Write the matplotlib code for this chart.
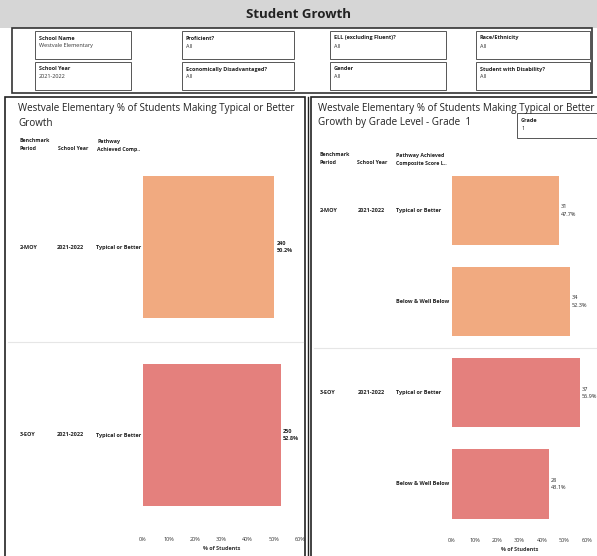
import matplotlib
matplotlib.use("Agg")
import matplotlib.pyplot as plt
from matplotlib.patches import Rectangle
from matplotlib.lines import Line2D
from matplotlib.transforms import blended_transform_factory
from matplotlib.ticker import PercentFormatter

plt.rcParams['font.family'] = ['Open Sans', 'DejaVu Sans']

# ---- data ----
left_periods = ["2-MOY", "3-EOY"]
left_years = ["2021-2022", "2021-2022"]
left_pathway = ["Typical or Better", "Typical or Better"]
left_counts = [240, 250]
left_pct = [0.502, 0.528]

right_periods = ["2-MOY", "", "3-EOY", ""]
right_years = ["2021-2022", "", "2021-2022", ""]
right_pathway = ["Typical or Better", "Below & Well Below", "Typical or Better", "Below & Well Below"]
right_counts = [31, 34, 37, 28]
right_pct = [0.477, 0.523, 0.569, 0.431]
right_group = ["MOY", "MOY", "EOY", "EOY"]

xticks = [0, 0.1, 0.2, 0.3, 0.4, 0.5, 0.6]

filters = [("School Name", "Westvale Elementary"), ("School Year", "2021-2022"),
           ("Proficient?", "All"), ("Economically Disadvantaged?", "All"),
           ("ELL (excluding Fluent)?", "All"), ("Gender", "All"),
           ("Race/Ethnicity", "All"), ("Student with Disability?", "All")]

COL = {"MOY": "#F1AA80", "EOY": "#E4807D"}

W, H = 597, 556
fig = plt.figure(figsize=(W / 100, H / 100), dpi=100)
fig.patch.set_facecolor("white")

def fx(x): return x / W
def fy(y): return 1 - y / H

def rect(x0, y0, x1, y1, **kw):
    r = Rectangle((fx(x0), fy(y1)), fx(x1) - fx(x0), fy(y0) - fy(y1),
                  transform=fig.transFigure, **kw)
    fig.add_artist(r)

def hline(x0, x1, y, **kw):
    fig.add_artist(Line2D([fx(x0), fx(x1)], [fy(y), fy(y)], transform=fig.transFigure, **kw))

def vline(x, y0, y1, **kw):
    fig.add_artist(Line2D([fx(x), fx(x)], [fy(y0), fy(y1)], transform=fig.transFigure, **kw))

def text(x, y, s, **kw):
    fig.text(fx(x), fy(y), s, **kw)

# title band
rect(0, 0, W, 28, facecolor="#d6d6d6", edgecolor="none")
text(298, 15, "Student Growth", ha="center", va="center", fontsize=9.5, fontweight="bold", color="#222222")
# filter area
rect(12, 28, 592, 93, facecolor="white", edgecolor="#333333", linewidth=1.2)
boxes_x = [(35, 131), (182, 294), (330, 446), (476, 590)]
for i, (lab, val) in enumerate(filters):
    col, row = i // 2, i % 2
    x0, x1 = boxes_x[col]
    y0 = 31 if row == 0 else 62
    y1 = y0 + 28
    rect(x0, y0, x1, y1, facecolor="white", edgecolor="#555555", linewidth=0.7)
    text(x0 + 4, y0 + 7, lab, ha="left", va="center", fontsize=4, fontweight="bold", color="#222222")
    text(x0 + 4, y0 + 15, val, ha="left", va="center", fontsize=4, color="#333333")

# panels
rect(5, 97, 305, 562, facecolor="none", edgecolor="#222222", linewidth=1.2)
rect(311, 97, 602, 562, facecolor="none", edgecolor="#222222", linewidth=1.2)
vline(308, 97, 556, color="#222222", linewidth=1.0)

tt = dict(ha="left", va="center", fontsize=7.1, color="#222222")
text(18, 108, "Westvale Elementary % of Students Making Typical or Better", **tt)
text(18, 123, "Growth", **tt)
text(318, 108, "Westvale Elementary % of Students Making Typical or Better", **tt)
text(318, 123, "Growth by Grade Level - Grade  1", **tt)
rect(517, 113, 600, 138, facecolor="white", edgecolor="#555555", linewidth=0.7)
text(521, 120, "Grade", ha="left", va="center", fontsize=4, fontweight="bold", color="#222222")
text(521, 128, "1", ha="left", va="center", fontsize=4, color="#222222")

hdr = dict(ha="left", va="center", fontsize=3.8, fontweight="bold", color="#222222")
text(20, 141, "Benchmark", **hdr); text(20, 149, "Period", **hdr)
text(58, 149, "School Year", **hdr)
text(97, 141, "Pathway", **hdr); text(97, 149, "Achieved Comp..", **hdr)
text(320, 155, "Benchmark", **hdr); text(320, 163, "Period", **hdr)
text(357, 163, "School Year", **hdr)
text(396, 155, "Pathway Achieved", **hdr); text(396, 163, "Composite Score L..", **hdr)

hline(8, 303, 342, color="#e6e6e6", linewidth=0.8)
hline(314, 597, 348, color="#e6e6e6", linewidth=0.8)

def make_axes(x0, x1, y0, y1):
    return fig.add_axes([fx(x0), fy(y1), fx(x1) - fx(x0), fy(y0) - fy(y1)])

def style(ax, n):
    ax.set_xlim(0, 0.6)
    ax.set_ylim(n - 0.5, -0.5)
    ax.set_xticks(xticks)
    ax.xaxis.set_major_formatter(PercentFormatter(1.0, decimals=0))
    ax.tick_params(axis="x", length=0, labelsize=4, pad=6, labelcolor="#333333")
    ax.set_yticks([])
    for s in ax.spines.values():
        s.set_visible(False)
    ax.set_facecolor("none")
    ax.set_xlabel("% of Students", fontsize=4, fontweight="bold", color="#333333", labelpad=3)

lab = dict(ha="left", va="center", fontsize=4, fontweight="bold", color="#222222")

# left chart
axL = make_axes(143, 300, 153, 529)
axL.barh(range(2), left_pct, height=0.755, color=[COL["MOY"], COL["EOY"]])
style(axL, 2)
trL = blended_transform_factory(fig.transFigure, axL.transData)
for i in range(2):
    axL.text(fx(20), i, left_periods[i], transform=trL, **lab)
    axL.text(fx(57), i, left_years[i], transform=trL, **lab)
    axL.text(fx(96), i, left_pathway[i], transform=trL, **lab)
    axL.text(left_pct[i] + 0.008, i, f"{left_counts[i]}\n{left_pct[i]*100:.1f}%",
             ha="left", va="center", fontsize=4, fontweight="bold", color="#222222", linespacing=1.6)

# right chart
axR = make_axes(452, 587, 165, 529.5)
axR.barh(range(4), right_pct, height=0.76, color=[COL[g] for g in right_group])
style(axR, 4)
trR = blended_transform_factory(fig.transFigure, axR.transData)
for i in range(4):
    axR.text(fx(320), i, right_periods[i], transform=trR, **lab)
    axR.text(fx(358), i, right_years[i], transform=trR, **lab)
    axR.text(fx(396), i, right_pathway[i], transform=trR, **lab)
    axR.text(right_pct[i] + 0.008, i, f"{right_counts[i]}\n{right_pct[i]*100:.1f}%",
             ha="left", va="center", fontsize=4, color="#222222", linespacing=1.6)

fig.savefig("out.png", dpi=100)
